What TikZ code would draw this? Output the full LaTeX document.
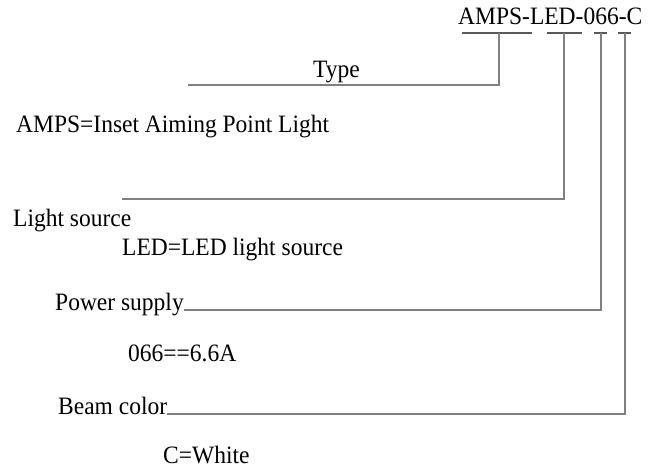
\documentclass[tikz,border=0pt]{standalone}
\usepackage{fontspec}
\setmainfont[FakeStretch=0.94]{Liberation Serif}
\begin{document}
\begin{tikzpicture}[x=1pt,y=-1pt,
  lbl/.style={anchor=base west,inner sep=0pt,font=\fontsize{25}{30}\selectfont},
  bar/.style={draw=black!65,line width=1.2pt},
  link/.style={draw=black!50,line width=1.3pt}]
  \useasboundingbox (0,0) rectangle (662,468);
  % codigo
  \node[lbl] (code) at (458,25) {AMPS-LED-066-C};
  % barras sob o codigo
  \foreach \a/\b/\m/\n in {462/532/499/t1, 547/582/564/t2,
                           594/607/601/t3, 618/631/625/t4}{
    \draw[bar] (\a,33) -- (\b,33);
    \coordinate (\n) at (\m,33);
  }
  % textos
  \node[lbl] (type)   at (313,78)  {Type};
  \node[lbl] (amps)   at (16,133)  {AMPS=Inset Aiming Point Light};
  \node[lbl] (source) at (13,226)  {Light source};
  \node[lbl] (led)    at (122,255) {LED=LED light source};
  \node[lbl] (power)  at (55,310)  {Power supply};
  \node[lbl] (amp)    at (128,361) {066==6.6A};
  \node[lbl] (beam)   at (58,414)  {Beam color};
  \node[lbl] (white)  at (163,463) {C=White};
  % pontas livres
  \coordinate (typeend) at (188,85);
  \coordinate (srcend)  at (122,199);
  % ligacoes
  \draw[link] (t1) |- (typeend);
  \draw[link] (t2) |- (srcend);
  \draw[link] (t3) |- (power.base east);
  \draw[link] (t4) |- (beam.base east);
\end{tikzpicture}
\end{document}
